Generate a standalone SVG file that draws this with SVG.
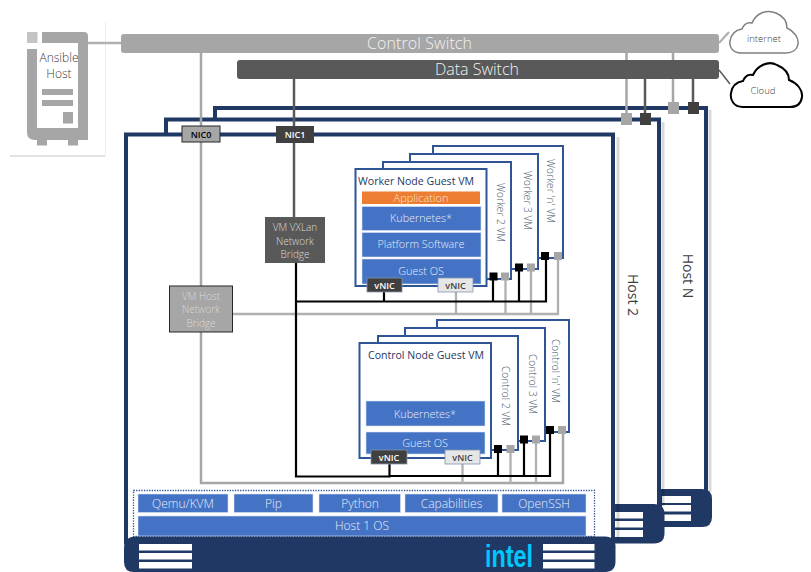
<svg xmlns="http://www.w3.org/2000/svg" width="811" height="572" viewBox="0 0 811 572">
<style>
text{font-family:"Open Sans","Noto Sans","Liberation Sans",sans-serif;font-weight:300;text-anchor:middle}
.host{fill:#fff;stroke:#1f3864;stroke-width:4}
.shadow{fill:none;stroke:#000;stroke-opacity:.15;stroke-width:3}
.base{fill:#1f3864}
.stripe{fill:#fff}
.vm{fill:#fff;stroke:#2f5597;stroke-width:2}
.blue{fill:#4472c4;stroke:#d9e2f3;stroke-width:.6}
.wt{fill:#e8edf7;font-size:12px}
.wv{fill:#e8edf7;font-size:10.8px}
.title{fill:#1f3864;font-size:11.5px;font-weight:400}
.rot{fill:#44546a;font-size:10px}
.g{fill:none;stroke:#a6a6a6;stroke-width:2}
.gl{fill:none;stroke:#b0b0b0;stroke-width:2.300}
.k{fill:none;stroke:#000;stroke-width:2.200}
.d{fill:none;stroke:#595959;stroke-width:2.500}
.vd{fill:#404040;stroke:#8497b0;stroke-width:.8}
.vl{fill:#e7e6e6;stroke:#8497b0;stroke-width:.8}
.bs{fill:#000}.gs{fill:#a6a6a6}
.sm{font-size:9px;font-weight:600}
.br{fill:#d9d9d9;font-size:10px}
.hl{fill:#404040;font-size:14px;font-weight:400}
</style>

<g id="ansible-host">
<path d="M10 156H105.500V22" fill="none" stroke="#ececec"/>
<path d="M10 156H105" fill="none" stroke="#d0d0d0"/>
<rect x="27" y="32" width="10.500" height="11" fill="#c4c4c4"/>
<path d="M42 32H84Q88 32 88 36V140H35Q27 140 27 132V49H37V128H78V43H42Z" fill="#a6a6a6"/>
<rect x="37" y="140" width="10" height="5.500" fill="#a6a6a6"/>
<rect x="68" y="140" width="10" height="5.500" fill="#a6a6a6"/>
<rect x="42" y="89" width="31" height="6" fill="#a6a6a6"/>
<rect x="42" y="100" width="31" height="6" fill="#a6a6a6"/>
<rect x="63" y="112" width="10" height="11.500" fill="#a6a6a6"/>
<text x="59" y="62" font-size="12" fill="#404040">Ansible</text>
<text x="59" y="78" font-size="12" fill="#404040">Host</text>
</g>

<g id="host-n">
<path class="shadow" d="M710 110V492"/>
<rect class="host" x="215" y="108" width="491" height="385"/>
<path class="base" d="M400 489H702Q712 489 712 499V517Q712 527 702 527H400Z"/>
<rect class="stripe" x="662" y="496" width="29" height="7"/>
<rect class="stripe" x="662" y="505" width="29" height="6.500"/>
<rect class="stripe" x="662" y="514.500" width="29" height="6.500"/>
<text class="hl" transform="translate(683,276) rotate(90)">Host N</text>
</g>

<g id="host-2">
<path class="shadow" d="M663 122V506"/>
<rect class="host" x="166" y="119.500" width="493" height="390"/>
<path class="base" d="M400 504H654Q664.500 504 664.500 514V533Q664.500 543.500 654 543.500H400Z"/>
<rect class="stripe" x="600" y="512" width="43" height="6.500"/>
<rect class="stripe" x="600" y="521" width="43" height="6.500"/>
<rect class="stripe" x="600" y="530" width="43" height="7"/>
<text class="hl" transform="translate(628,295) rotate(90)">Host 2</text>
</g>

<g id="host-1">
<path class="shadow" d="M618 137V540"/>
<rect class="host" x="126" y="134.500" width="487" height="408"/>
</g>

<g id="host-1-software">
<rect x="133.500" y="490.500" width="461" height="46" fill="none" stroke="#2f5597" stroke-width="1.300" stroke-dasharray="1.300 1.300"/>
<rect class="blue" x="138" y="494" width="90" height="18.500"/><text class="wt" x="183" y="507.500">Qemu/KVM</text>
<rect class="blue" x="234" y="494" width="79" height="18.500"/><text class="wt" x="273.500" y="507.500">Pip</text>
<rect class="blue" x="319" y="494" width="81.500" height="18.500"/><text class="wt" x="360" y="507.500">Python</text>
<rect class="blue" x="405" y="494" width="93" height="18.500"/><text class="wt" x="451.500" y="507.500">Capabilities</text>
<rect class="blue" x="502" y="494" width="84" height="18.500"/><text class="wt" x="544" y="507.500">OpenSSH</text>
<rect class="blue" x="138" y="516" width="448" height="20"/><text class="wt" x="362" y="530">Host 1 OS</text>
</g>

<g id="host-1-base">
<path class="base" d="M136 536.500H605Q615.500 536.500 615.500 547V561Q615.500 572 605 572H134Q124 572 124 562V549Q124 536.500 136 536.500Z"/>
<rect class="stripe" x="139" y="544" width="53" height="6.500"/>
<rect class="stripe" x="139" y="553" width="53" height="6.500"/>
<rect class="stripe" x="139" y="562" width="53" height="6.500"/>
<rect class="stripe" x="543" y="544" width="51.500" height="6.500"/>
<rect class="stripe" x="543" y="553" width="51.500" height="6.500"/>
<rect class="stripe" x="543" y="562" width="51.500" height="6.500"/>
<text x="509" y="567" font-size="31" textLength="48" lengthAdjust="spacingAndGlyphs" style="font-family:'Liberation Sans',sans-serif;font-weight:700" fill="#00c7fd">intel</text>
</g>

<g id="connectors">
<path class="gl" d="M88 43H121"/>
<path class="gl" d="M719 43L729 32"/>
<path class="d" style="stroke-width:1.500" d="M719 70L730 84"/>
<path class="g" style="stroke-width:2.500" d="M201 53V286M201 332V483H563V432"/>
<path class="gl" d="M233 314H558V258M456 292V314M505.500 279V314M531 270V314"/>
<path class="gl" d="M462.500 464V483M510.500 452V483M536 443V483"/>
<path class="d" d="M294 79V217"/>
<path class="k" d="M296 263V476.500H389.500V464M389.500 476H550V433M296 301.500H546V258M384 292V301.500M493 280V301.500M519 270V301.500"/>
<path class="k" d="M498 452V476M524 443V476"/>
<path class="g" style="stroke-width:2.500" d="M626.500 53V113M673 53V102"/>
<path class="d" d="M645 79V113M693 79V102"/>
</g>

<g id="worker-vms">
<rect class="vm" x="433" y="146" width="130" height="112"/>
<rect class="vm" x="410" y="154" width="128" height="115"/>
<rect class="vm" x="383" y="162" width="128" height="117"/>
<rect class="vm" x="355.500" y="169" width="131" height="117"/>
<text class="rot" transform="translate(497,212.500) rotate(90)" textLength="59">Worker 2 VM</text>
<text class="rot" transform="translate(524,200.500) rotate(90)" textLength="59">Worker 3 VM</text>
<text class="rot" transform="translate(547,191) rotate(90)" textLength="64">Worker 'n' VM</text>
<text class="title" x="416" y="185" textLength="116" lengthAdjust="spacingAndGlyphs">Worker Node Guest VM</text>
<rect x="362" y="191.500" width="118" height="12.500" fill="#ed7d31"/>
<text x="421" y="202" font-size="11" fill="#fbe5d6">Application</text>
<rect class="blue" x="362" y="206.500" width="119" height="24"/><text class="wv" x="421" y="222">Kubernetes*</text>
<rect class="blue" x="362" y="232.500" width="119" height="24.500"/><text class="wv" x="421" y="248">Platform Software</text>
<rect class="blue" x="362" y="259" width="119" height="25"/><text class="wv" x="421" y="275">Guest OS</text>
<rect class="vd" x="367" y="278" width="35" height="14"/><text class="sm" x="384.500" y="288.500" fill="#fff">vNIC</text>
<rect class="vl" x="438" y="278" width="35" height="14"/><text class="sm" x="455.500" y="288.500" fill="#404040">vNIC</text>
<rect class="bs" x="489.500" y="272.500" width="8" height="8"/><rect class="gs" x="501" y="272.500" width="8" height="8"/>
<rect class="bs" x="515" y="263.500" width="8" height="8"/><rect class="gs" x="527" y="263.500" width="8" height="8"/>
<rect class="bs" x="541" y="252" width="8" height="8"/><rect class="gs" x="554" y="252" width="8" height="8"/>
</g>

<g id="control-vms">
<rect class="vm" x="437" y="320" width="132" height="112"/>
<rect class="vm" x="405" y="328" width="140" height="113"/>
<rect class="vm" x="378" y="336" width="140" height="114"/>
<rect class="vm" x="359.500" y="343" width="131.500" height="115"/>
<text class="rot" transform="translate(502,396) rotate(90)" textLength="60">Control 2 VM</text>
<text class="rot" transform="translate(529,384) rotate(90)" textLength="60">Control 3 VM</text>
<text class="rot" transform="translate(552,371) rotate(90)" textLength="64">Control 'n' VM</text>
<text class="title" x="426" y="359" textLength="116" lengthAdjust="spacingAndGlyphs">Control Node Guest VM</text>
<rect class="blue" x="366" y="401" width="119" height="25"/><text class="wv" x="425" y="418">Kubernetes*</text>
<rect class="blue" x="366" y="432" width="119" height="22"/><text class="wv" x="425" y="447">Guest OS</text>
<rect class="vd" x="371" y="450" width="36" height="14"/><text class="sm" x="389" y="460.500" fill="#fff">vNIC</text>
<rect class="vl" x="445" y="450" width="35" height="14"/><text class="sm" x="462.500" y="460.500" fill="#404040">vNIC</text>
<rect class="bs" x="494" y="445" width="8" height="8"/><rect class="gs" x="506.500" y="445" width="8" height="8"/>
<rect class="bs" x="520" y="435.500" width="8" height="8"/><rect class="gs" x="532" y="435.500" width="8" height="8"/>
<rect class="bs" x="546" y="426" width="8" height="8"/><rect class="gs" x="558" y="426" width="8" height="8"/>
</g>

<g id="vm-host-bridge">
<rect x="169.500" y="286" width="63" height="46" fill="#a6a6a6" stroke="#262626" stroke-width="1"/>
<text class="br" x="201" y="300">VM Host</text><text class="br" x="201" y="313">Network</text><text class="br" x="201" y="326.500">Bridge</text>
</g>
<g id="vxlan-bridge">
<rect x="265" y="217" width="60" height="46" fill="#595959"/>
<text class="br" x="295" y="231">VM VXLan</text><text class="br" x="295" y="244.500">Network</text><text class="br" x="295" y="258">Bridge</text>
</g>
<g id="nic0">
<rect x="182" y="126" width="38" height="16" fill="#a6a6a6" stroke="#262626"/>
<text class="sm" x="201" y="137.500" fill="#000">NIC0</text>
</g>
<g id="nic1">
<rect x="276" y="126" width="38" height="17" fill="#404040"/>
<text class="sm" x="295" y="138" fill="#fff">NIC1</text>
</g>

<g id="host-switch-ports">
<rect x="621" y="113" width="11" height="12" fill="#a6a6a6"/>
<rect x="640" y="113" width="11" height="12" fill="#404040"/>
<rect x="668" y="102" width="11" height="12" fill="#a6a6a6"/>
<rect x="688" y="102" width="11" height="12" fill="#404040"/>
</g>

<g id="control-switch">
<rect x="121" y="34" width="598" height="19" rx="3" fill="#a6a6a6"/>
<text x="419.500" y="49" font-size="16" textLength="105" fill="#f2f2f2">Control Switch</text>
</g>
<g id="data-switch">
<rect x="237" y="60" width="482" height="19" rx="3" fill="#595959"/>
<text x="477" y="75" font-size="16" textLength="84" fill="#f2f2f2">Data Switch</text>
</g>

<g id="internet">
<path d="M741 53C732 53 729 46 730 41C731 34 736 30 742 29C744 24 748 22 752 23C756 13 767 9 776 13C783 16 787 21 787 28C794 31 799 38 798 44C797 50 792 53 786 53Z" fill="#fff" stroke="#808080" stroke-width="1.500"/>
<text x="764" y="42" font-size="9.500" fill="#404040">internet</text>
</g>
<g id="cloud">
<path d="M743 107C733 107 730 99 731 93C732 86 737 82 743 81C745 76 749 74 753 75C757 66 768 60 777 65C784 68 789 73 789 80C797 83 803 90 802 97C801 104 796 107 790 107Z" fill="#fff" stroke="#000" stroke-width="2"/>
<text x="763" y="94" font-size="9.500" fill="#404040">Cloud</text>
</g>
</svg>
